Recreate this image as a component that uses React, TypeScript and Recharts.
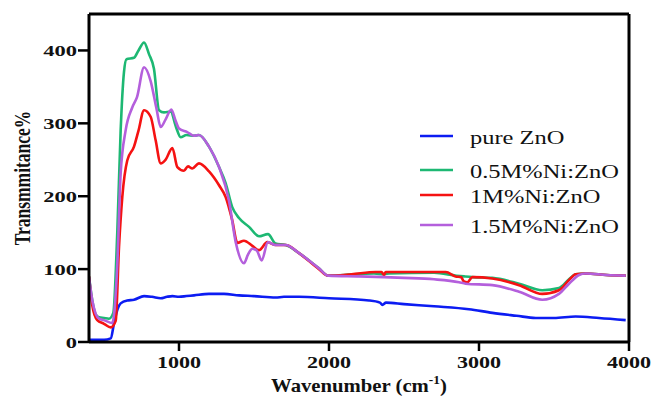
import { LineChart, Line, XAxis, YAxis, Legend, ReferenceLine, Label } from "recharts";

// [wavenumber, transmittance]
const pureZnO: [number, number][] = [
  [400, 3], [450, 3], [500, 3], [545, 5], [567, 26], [590, 45], [611, 53], [655, 57],
  [700, 58], [767, 63], [820, 62], [878, 60], [920, 62], [956, 63], [1000, 62], [1050, 63],
  [1100, 64], [1200, 66], [1300, 66], [1400, 64], [1500, 63], [1644, 61], [1700, 62],
  [1800, 62], [2000, 60], [2267, 57], [2340, 54], [2356, 51], [2380, 54], [2500, 52],
  [2700, 49], [2933, 45], [3089, 40], [3250, 36], [3378, 33], [3500, 33], [3644, 35],
  [3800, 33], [3978, 30],
];

const ni05: [number, number][] = [
  [400, 90], [422, 57], [444, 38], [467, 34], [500, 33], [533, 32], [562, 40], [589, 153],
  [611, 290], [633, 370], [650, 388], [700, 390], [730, 400], [767, 411], [800, 395],
  [833, 375], [867, 318], [900, 315], [945, 316], [980, 295], [1011, 281], [1050, 284],
  [1100, 283], [1133, 284], [1200, 268], [1267, 240], [1311, 218], [1355, 185], [1400, 170],
  [1467, 158], [1533, 145], [1593, 148], [1644, 135], [1711, 133], [1800, 122], [1933, 101],
  [1995, 91], [2100, 92], [2300, 94], [2367, 93], [2400, 94], [2700, 95], [2850, 91],
  [2900, 90], [2956, 89], [3089, 88], [3267, 80], [3422, 71], [3533, 74], [3600, 86],
  [3644, 93], [3711, 94], [3850, 92], [3978, 91],
];

const ni1: [number, number][] = [
  [400, 90], [422, 50], [455, 30], [500, 25], [545, 20], [578, 29], [600, 130], [622, 199],
  [655, 249], [700, 268], [730, 290], [767, 318], [811, 309], [844, 277], [878, 245],
  [910, 250], [956, 266], [989, 240], [1033, 235], [1060, 241], [1089, 238], [1133, 245],
  [1200, 234], [1267, 215], [1311, 199], [1355, 167], [1389, 136], [1433, 139], [1489, 132],
  [1533, 126], [1589, 137], [1644, 133], [1711, 133], [1800, 122], [1933, 100], [1995, 91],
  [2150, 93], [2311, 96], [2350, 96], [2367, 92], [2378, 96], [2500, 96], [2778, 96],
  [2844, 90], [2880, 89], [2900, 83], [2922, 82], [2956, 89], [3089, 87], [3267, 78],
  [3422, 66], [3533, 71], [3600, 85], [3644, 93], [3711, 94], [3850, 92], [3978, 91],
];

const ni15: [number, number][] = [
  [400, 89], [422, 57], [444, 39], [467, 32], [500, 30], [555, 26], [589, 108], [611, 231],
  [644, 290], [689, 322], [720, 336], [767, 377], [811, 358], [850, 320], [878, 295],
  [910, 305], [949, 319], [975, 305], [1000, 293], [1055, 288], [1100, 283], [1133, 284],
  [1200, 268], [1267, 240], [1333, 194], [1378, 137], [1433, 108], [1460, 120], [1489, 128],
  [1520, 125], [1551, 112], [1593, 137], [1644, 133], [1711, 133], [1800, 122], [1933, 101],
  [1995, 91], [2200, 90], [2367, 89], [2500, 88], [2700, 86], [2867, 82], [2911, 80],
  [3089, 78], [3267, 69], [3422, 58], [3533, 66], [3600, 80], [3667, 92], [3711, 94],
  [3850, 92], [3978, 91],
];

const xTicks = [1000, 2000, 3000, 4000];
const yTicks = [0, 100, 200, 300, 400];

const seriesList = [
  { name: "pure ZnO", color: "#0c1cf2", points: pureZnO },
  { name: "0.5M%Ni:ZnO", color: "#1db873", points: ni05 },
  { name: "1M%Ni:ZnO", color: "#f51212", points: ni1 },
  { name: "1.5M%Ni:ZnO", color: "#b45fdc", points: ni15 },
];

const legendRows = [8, 42, 67, 97];
const serif = "'Liberation Serif', 'Times New Roman', serif";

const XTick = ({ x, y, payload }: any) => (
  <text
    transform={`translate(${x},${y + 15}) scale(1.3,1)`}
    textAnchor="middle"
    fontFamily={serif}
    fontWeight="bold"
    fontSize={17}
    fill="#111"
  >
    {payload.value}
  </text>
);

const YTick = ({ x, y, payload }: any) => (
  <text
    transform={`translate(${x},${y + 6}) scale(1.55,1)`}
    textAnchor="end"
    fontFamily={serif}
    fontWeight="bold"
    fontSize={14.5}
    fill="#111"
  >
    {payload.value}
  </text>
);

const XTitle = ({ viewBox }: any) => (
  <text
    transform={`translate(${viewBox.x + viewBox.width / 2},392) scale(1.12,1)`}
    textAnchor="middle"
    fontFamily={serif}
    fontWeight="bold"
    fontSize={18.5}
    fill="#111"
  >
    Wavenumber (cm
    <tspan fontSize={12} dy={-8}>-1</tspan>
    <tspan dy={8}>)</tspan>
  </text>
);

const YTitle = ({ viewBox }: any) => (
  <text
    transform={`translate(${viewBox.x + 1},${viewBox.y + viewBox.height / 2}) rotate(-90) scale(1,1.3)`}
    textAnchor="middle"
    fontFamily={serif}
    fontWeight="bold"
    fontSize={17.5}
    fill="#111"
  >
    Transmmitance%
  </text>
);

const LegendBox = () => (
  <svg width={230} height={115}>
    {seriesList.map((s, i) => (
      <g key={s.name}>
        <line x1={5} x2={38} y1={legendRows[i]} y2={legendRows[i]} stroke={s.color} strokeWidth={2.6} />
        <text
          transform={`translate(55,${legendRows[i] + 7.5}) scale(1.36,1)`}
          fontFamily={serif}
          fontSize={18}
          fill="#111"
        >
          {s.name}
        </text>
      </g>
    ))}
  </svg>
);

export default function App() {
  return (
    <div style={{ position: "absolute", left: 0, top: 0, background: "#fff" }}>
      <LineChart width={653} height={398} margin={{ top: 14, right: 24, left: 29, bottom: 0 }}>
        <XAxis
          dataKey="x"
          type="number"
          domain={[400, 4000]}
          ticks={xTicks}
          allowDataOverflow
          height={56}
          tickSize={9}
          tickMargin={2}
          axisLine={{ stroke: "#000", strokeWidth: 3 }}
          tickLine={{ stroke: "#000", strokeWidth: 2.5 }}
          tick={<XTick />}
        >
          <Label content={<XTitle />} />
        </XAxis>
        <YAxis
          type="number"
          domain={[0, 450]}
          ticks={yTicks}
          width={60}
          tickSize={11}
          tickMargin={1}
          axisLine={{ stroke: "#000", strokeWidth: 3 }}
          tickLine={{ stroke: "#000", strokeWidth: 2.5 }}
          tick={<YTick />}
        >
          <Label content={<YTitle />} />
        </YAxis>
        <ReferenceLine y={450} stroke="#000" strokeWidth={3} />
        <ReferenceLine x={4000} stroke="#000" strokeWidth={3} />
        {seriesList.map((s) => (
          <Line
            key={s.name}
            name={s.name}
            data={s.points.map(([x, y]) => ({ x, y }))}
            dataKey="y"
            type="monotone"
            stroke={s.color}
            strokeWidth={2.6}
            dot={false}
            activeDot={false}
            isAnimationActive={false}
          />
        ))}
        <Legend
          layout="horizontal"
          verticalAlign="middle"
          align="center"
          content={<LegendBox />}
          wrapperStyle={{ position: "absolute", left: 415, top: 128, width: 230, height: 115 }}
        />
      </LineChart>
    </div>
  );
}
